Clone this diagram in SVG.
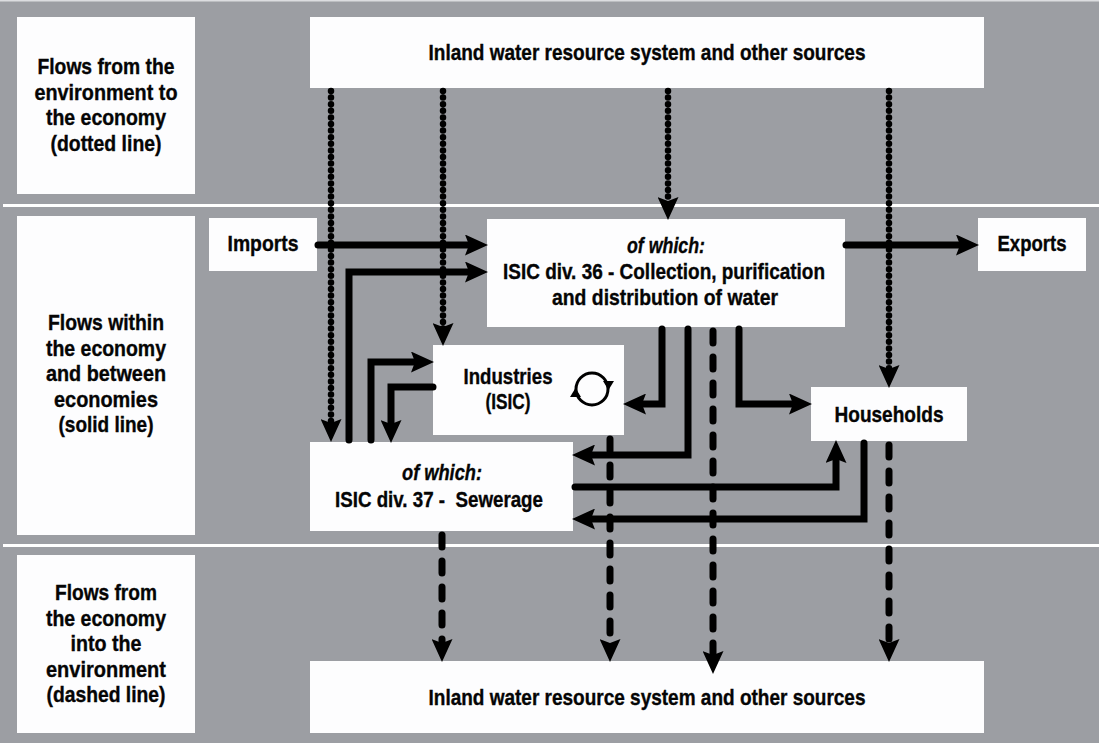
<svg xmlns="http://www.w3.org/2000/svg" width="1099" height="743" viewBox="0 0 1099 743">
<style>
.bg{fill:#9c9ea3}
.sep{fill:#ffffff}
.box{fill:#fdfdfe}
text{font-family:"Liberation Sans",Arial,sans-serif;font-weight:bold;font-size:21.5px;fill:#050505;stroke:#050505;stroke-width:0.35;text-anchor:middle}
.it{font-style:italic}
.solid{fill:none;stroke:#000;stroke-width:7;stroke-linejoin:miter;stroke-linecap:round}
.dot{fill:none;stroke:#000;stroke-width:6.5;stroke-dasharray:0 6.6;stroke-linecap:round}
.dash{fill:none;stroke:#000;stroke-width:7;stroke-dasharray:12 14;stroke-linecap:round}
.icon{fill:none;stroke:#000;stroke-width:3}
</style>
<defs>
<marker id="ah" markerUnits="userSpaceOnUse" markerWidth="23" markerHeight="21" refX="6" refY="10.5" orient="auto"><path d="M0,0 L23,10.5 L0,21 L4,10.5 z" fill="#000"/></marker>
</defs>
<rect class="bg" x="0" y="0" width="1099" height="743"/>
<rect x="0" y="0" width="1099" height="1.5" fill="#dcdde0"/>
<rect class="sep" x="3" y="204" width="1096" height="3"/>
<rect class="sep" x="3" y="544" width="1096" height="3"/>

<g id="label-env-to-economy">
<rect class="box" x="17" y="17" width="178" height="177"/>
<text x="106" y="74" textLength="137" lengthAdjust="spacingAndGlyphs">Flows from the</text>
<text x="106" y="100" textLength="143" lengthAdjust="spacingAndGlyphs">environment to</text>
<text x="106" y="125" textLength="120" lengthAdjust="spacingAndGlyphs">the economy</text>
<text x="106" y="151" textLength="111" lengthAdjust="spacingAndGlyphs">(dotted line)</text>
</g>
<g id="label-within-economy">
<rect class="box" x="17" y="216" width="178" height="319"/>
<text x="106" y="330" textLength="116" lengthAdjust="spacingAndGlyphs">Flows within</text>
<text x="106" y="356" textLength="120" lengthAdjust="spacingAndGlyphs">the economy</text>
<text x="106" y="381" textLength="120" lengthAdjust="spacingAndGlyphs">and between</text>
<text x="106" y="407" textLength="104" lengthAdjust="spacingAndGlyphs">economies</text>
<text x="106" y="432" textLength="95" lengthAdjust="spacingAndGlyphs">(solid line)</text>
</g>
<g id="label-economy-to-env">
<rect class="box" x="17" y="555" width="178" height="178"/>
<text x="106" y="600" textLength="102" lengthAdjust="spacingAndGlyphs">Flows from</text>
<text x="106" y="626" textLength="120" lengthAdjust="spacingAndGlyphs">the economy</text>
<text x="106" y="651" textLength="71" lengthAdjust="spacingAndGlyphs">into the</text>
<text x="106" y="677" textLength="120" lengthAdjust="spacingAndGlyphs">environment</text>
<text x="106" y="702" textLength="119" lengthAdjust="spacingAndGlyphs">(dashed line)</text>
</g>
<g id="inland-top">
<rect class="box" x="310" y="17" width="674" height="71"/>
<text x="647" y="60" textLength="437" lengthAdjust="spacingAndGlyphs">Inland water resource system and other sources</text>
</g>
<g id="inland-bottom">
<rect class="box" x="310" y="661" width="674" height="72"/>
<text x="647" y="705" textLength="437" lengthAdjust="spacingAndGlyphs">Inland water resource system and other sources</text>
</g>
<g id="imports">
<rect class="box" x="209" y="218" width="108" height="53"/>
<text x="263" y="251" textLength="71" lengthAdjust="spacingAndGlyphs">Imports</text>
</g>
<g id="exports">
<rect class="box" x="978" y="218" width="108" height="53"/>
<text x="1032" y="251" textLength="69" lengthAdjust="spacingAndGlyphs">Exports</text>
</g>
<g id="isic36">
<rect class="box" x="487" y="219" width="358" height="108"/>
<text class="it" x="666" y="253" textLength="78" lengthAdjust="spacingAndGlyphs">of which:</text>
<text x="664" y="279" textLength="322" lengthAdjust="spacingAndGlyphs">ISIC div. 36 - Collection, purification</text>
<text x="665" y="305" textLength="226" lengthAdjust="spacingAndGlyphs">and distribution of water</text>
</g>
<g id="industries">
<rect class="box" x="433" y="345" width="191" height="90"/>
<text x="508" y="384" textLength="89" lengthAdjust="spacingAndGlyphs">Industries</text>
<text x="508" y="409" textLength="45" lengthAdjust="spacingAndGlyphs">(ISIC)</text>
<circle class="icon" cx="592" cy="389" r="16"/>
<path d="M603,381 L614,381 L608.5,390 z" fill="#000"/>
<path d="M570,397 L581,397 L575.5,388 z" fill="#000"/>
</g>
<g id="sewerage">
<rect class="box" x="310" y="442" width="263" height="89"/>
<text class="it" x="442" y="480" textLength="80" lengthAdjust="spacingAndGlyphs">of which:</text>
<text x="439" y="507" textLength="208" lengthAdjust="spacingAndGlyphs" xml:space="preserve">ISIC div. 37 -  Sewerage</text>
</g>
<g id="households">
<rect class="box" x="811" y="387" width="156" height="54"/>
<text x="889" y="422" textLength="109" lengthAdjust="spacingAndGlyphs">Households</text>
</g>

<g id="connectors">
<path class="solid" marker-end="url(#ah)" d="M318,245 H471"/>
<path class="solid" marker-end="url(#ah)" d="M846,245 H962"/>
<path class="solid" marker-end="url(#ah)" d="M349,440 V272 H471"/>
<path class="solid" marker-end="url(#ah)" d="M371,440 V362 H417"/>
<path class="solid" marker-end="url(#ah)" d="M433,387 H391 V426"/>
<path class="solid" marker-end="url(#ah)" d="M662,329 V404 H640"/>
<path class="solid" marker-end="url(#ah)" d="M688,329 V455 H589"/>
<path class="solid" marker-end="url(#ah)" d="M739,329 V404 H795"/>
<path class="solid" marker-end="url(#ah)" d="M575,487 H836 V457"/>
<path class="solid" marker-end="url(#ah)" d="M864,443 V519 H589"/>
<path class="dot" marker-end="url(#ah)" d="M331,91 V425"/>
<path class="dot" marker-end="url(#ah)" d="M443,91 V329"/>
<path class="dot" marker-end="url(#ah)" d="M668,91 V203"/>
<path class="dot" marker-end="url(#ah)" d="M889,91 V371"/>
<path class="dash" marker-end="url(#ah)" d="M442,535 V645"/>
<path class="dash" marker-end="url(#ah)" d="M610,439 V645"/>
<path class="dash" marker-end="url(#ah)" d="M713,331 V657"/>
<path class="dash" marker-end="url(#ah)" d="M889,445 V645"/>
</g>
</svg>
